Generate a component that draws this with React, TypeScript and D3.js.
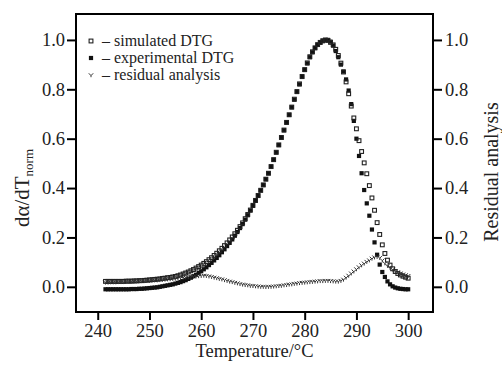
import React, { useEffect, useRef } from 'react';
import * as d3 from 'd3';

// sample temperatures (°C)
const temps = [
  241.5, 242, 242.5, 243, 243.5, 244, 244.5, 245, 245.5, 246,
  246.5, 247, 247.5, 248, 248.5, 249, 249.5, 250, 250.5, 251,
  251.5, 252, 252.5, 253, 253.5, 254, 254.5, 255, 255.5, 256,
  256.5, 257, 257.5, 258, 258.5, 259, 259.5, 260, 260.5, 261,
  261.5, 262, 262.5, 263, 263.5, 264, 264.5, 265, 265.5, 266,
  266.5, 267, 267.5, 268, 268.5, 269, 269.5, 270, 270.5, 271,
  271.5, 272, 272.5, 273, 273.5, 274, 274.5, 275, 275.5, 276,
  276.5, 277, 277.5, 278, 278.5, 279, 279.5, 280, 280.5, 281,
  281.5, 282, 282.5, 283, 283.5, 284, 284.5, 285, 285.5, 286,
  286.5, 287, 287.5, 288, 288.5, 289, 289.5, 290, 290.5, 291,
  291.5, 292, 292.5, 293, 293.5, 294, 294.5, 295, 295.5, 296,
  296.5, 297, 297.5, 298, 298.5, 299, 299.5, 300,
];

const simulated = [
  0.022, 0.022, 0.022, 0.022, 0.022, 0.022, 0.022, 0.022, 0.023, 0.023,
  0.023, 0.024, 0.024, 0.025, 0.025, 0.026, 0.027, 0.028, 0.029, 0.030,
  0.031, 0.032, 0.034, 0.035, 0.037, 0.038, 0.040, 0.042, 0.045, 0.048,
  0.052, 0.056, 0.060, 0.065, 0.070, 0.076, 0.082, 0.088, 0.095, 0.102,
  0.110, 0.118, 0.127, 0.136, 0.146, 0.156, 0.167, 0.178, 0.190, 0.202,
  0.215, 0.229, 0.244, 0.259, 0.276, 0.293, 0.311, 0.330, 0.350, 0.370,
  0.391, 0.413, 0.436, 0.460, 0.487, 0.515, 0.545, 0.575, 0.605, 0.635,
  0.666, 0.697, 0.728, 0.760, 0.791, 0.822, 0.852, 0.880, 0.907, 0.932,
  0.952, 0.968, 0.981, 0.990, 0.997, 1.000, 0.998, 0.990, 0.980, 0.962,
  0.937, 0.906, 0.870, 0.830, 0.782, 0.732, 0.684, 0.640, 0.592, 0.548,
  0.502, 0.458, 0.410, 0.360, 0.310, 0.260, 0.212, 0.170, 0.135, 0.108,
  0.088, 0.073, 0.062, 0.054, 0.048, 0.043, 0.039, 0.035,
];

const experimental = [
  -0.010, -0.010, -0.010, -0.010, -0.010, -0.010, -0.010, -0.010, -0.010, -0.010,
  -0.009, -0.009, -0.009, -0.008, -0.008, -0.007, -0.006, -0.005, -0.004, -0.003,
  -0.002, 0.000, 0.002, 0.004, 0.006, 0.008, 0.010, 0.013, 0.016, 0.019,
  0.023, 0.027, 0.032, 0.037, 0.043, 0.049, 0.056, 0.063, 0.071, 0.079,
  0.088, 0.097, 0.107, 0.117, 0.128, 0.140, 0.152, 0.165, 0.178, 0.192,
  0.207, 0.222, 0.238, 0.254, 0.272, 0.290, 0.309, 0.328, 0.348, 0.368,
  0.390, 0.412, 0.436, 0.460, 0.487, 0.515, 0.544, 0.574, 0.604, 0.634,
  0.665, 0.696, 0.727, 0.758, 0.789, 0.820, 0.850, 0.878, 0.905, 0.930,
  0.950, 0.967, 0.980, 0.989, 0.995, 0.999, 1.000, 0.993, 0.977, 0.955,
  0.930, 0.900, 0.872, 0.840, 0.795, 0.740, 0.672, 0.600, 0.530, 0.460,
  0.392, 0.338, 0.288, 0.232, 0.180, 0.130, 0.090, 0.060, 0.040, 0.022,
  0.010, 0.002, -0.003, -0.006, -0.008, -0.009, -0.010, -0.010,
];

const residual = [
  0.018, 0.018, 0.019, 0.019, 0.019, 0.020, 0.020, 0.020, 0.021, 0.021,
  0.022, 0.022, 0.023, 0.023, 0.024, 0.024, 0.025, 0.025, 0.026, 0.027,
  0.027, 0.028, 0.029, 0.030, 0.031, 0.032, 0.033, 0.034, 0.035, 0.036,
  0.038, 0.039, 0.040, 0.041, 0.042, 0.043, 0.044, 0.045, 0.046, 0.045,
  0.043, 0.041, 0.038, 0.036, 0.033, 0.031, 0.028, 0.025, 0.022, 0.020,
  0.017, 0.015, 0.012, 0.010, 0.008, 0.007, 0.005, 0.004, 0.003, 0.002,
  0.001, 0.001, 0.000, 0.001, 0.001, 0.002, 0.003, 0.004, 0.005, 0.007,
  0.008, 0.010, 0.011, 0.013, 0.014, 0.016, 0.017, 0.018, 0.019, 0.020,
  0.021, 0.022, 0.023, 0.024, 0.024, 0.025, 0.025, 0.024, 0.023, 0.022,
  0.022, 0.025, 0.030, 0.038, 0.046, 0.055, 0.063, 0.072, 0.080, 0.088,
  0.095, 0.102, 0.108, 0.115, 0.120, 0.122, 0.118, 0.108, 0.096, 0.086,
  0.078, 0.071, 0.065, 0.060, 0.055, 0.051, 0.048, 0.045,
];

const xTicks = [240, 250, 260, 270, 280, 290, 300];
const yTicks = [0.0, 0.2, 0.4, 0.6, 0.8, 1.0];
const legendLabels = ['– simulated DTG', '– experimental DTG', '– residual analysis'];

const W = 502;
const H = 365;
const FONT = '"Liberation Serif", "DejaVu Serif", serif';

const App = () => {
  const svgRef = useRef<SVGSVGElement>(null);

  useEffect(() => {
    const margin = { top: 14, right: 69, bottom: 53, left: 76 };
    const width = W - margin.left - margin.right;
    const height = H - margin.top - margin.bottom;

    d3.select(svgRef.current).selectAll('*').remove();

    const svg = d3.select(svgRef.current)
      .attr('width', W)
      .attr('height', H)
      .append('g')
      .attr('transform', `translate(${margin.left},${margin.top})`);

    const x = d3.scaleLinear().domain([235.8, 304.8]).range([0, width]);
    const y = d3.scaleLinear().domain([-0.102, 1.105]).range([height, 0]);

    const n = Math.min(temps.length, simulated.length, experimental.length, residual.length);
    const rows = d3.range(n).map(i => ({
      t: temps[i], sim: simulated[i], exp: experimental[i], res: residual[i],
    }));

    // axes
    const styleAxis = (g: any) => {
      g.select('.domain').remove();
      g.selectAll('line').attr('stroke', '#000').attr('stroke-width', 2);
      g.selectAll('text')
        .style('font-family', FONT)
        .style('font-size', '18.5px')
        .attr('fill', '#222');
    };

    svg.append('g')
      .attr('transform', `translate(0,${height})`)
      .call(d3.axisBottom(x).tickValues(xTicks).tickSize(8).tickPadding(4).tickFormat(d3.format('d')))
      .call(styleAxis);

    svg.append('g')
      .call(d3.axisLeft(y).tickValues(yTicks).tickSize(9).tickPadding(2).tickFormat(d3.format('.1f')))
      .call(styleAxis);

    svg.append('g')
      .attr('transform', `translate(${width},0)`)
      .call(d3.axisRight(y).tickValues(yTicks).tickSize(9).tickPadding(3).tickFormat(d3.format('.1f')))
      .call(styleAxis);

    // frame
    svg.append('rect')
      .attr('x', 0).attr('y', 0)
      .attr('width', width).attr('height', height)
      .attr('fill', 'none')
      .attr('stroke', '#000')
      .attr('stroke-width', 2);

    // axis titles
    svg.append('text')
      .attr('x', width / 2)
      .attr('y', height + 45)
      .attr('text-anchor', 'middle')
      .style('font-family', FONT)
      .style('font-size', '18.5px')
      .attr('fill', '#222')
      .text('Temperature/°C');

    const yl = svg.append('text')
      .attr('transform', `translate(${-margin.left + 29},${174}) rotate(-90)`)
      .attr('text-anchor', 'middle')
      .style('font-family', FONT)
      .style('font-size', '21px')
      .attr('fill', '#222');
    yl.append('tspan').text('dα/dT');
    yl.append('tspan').attr('dy', 4).style('font-size', '13px').text('norm');

    svg.append('text')
      .attr('transform', `translate(${width + 65},${158}) rotate(-90)`)
      .attr('text-anchor', 'middle')
      .style('font-family', FONT)
      .style('font-size', '20px')
      .attr('fill', '#222')
      .text('Residual analysis');

    // markers
    const resMark = 'M-2.2,-1.7 L0,0.6 L2.2,-1.7 M0,0.6 L0,2.2';

    svg.append('g')
      .selectAll('rect')
      .data(rows)
      .join('rect')
      .attr('x', d => x(d.t) - 2.1)
      .attr('y', d => y(d.exp) - 2.1)
      .attr('width', 4.2)
      .attr('height', 4.2)
      .attr('fill', '#111');

    svg.append('g')
      .selectAll('rect')
      .data(rows)
      .join('rect')
      .attr('x', d => x(d.t) - 1.9)
      .attr('y', d => y(d.sim) - 1.9)
      .attr('width', 3.8)
      .attr('height', 3.8)
      .attr('fill', 'none')
      .attr('stroke', '#222')
      .attr('stroke-width', 1.1);

    svg.append('g')
      .selectAll('path')
      .data(rows)
      .join('path')
      .attr('transform', d => `translate(${x(d.t)},${y(d.res)})`)
      .attr('d', resMark)
      .attr('fill', 'none')
      .attr('stroke', '#333')
      .attr('stroke-width', 1);

    // legend
    const legend = svg.append('g')
      .selectAll('g')
      .data(legendLabels)
      .join('g')
      .attr('transform', (d, i) => `translate(15,${27 + i * 17})`);

    legend.append('text')
      .attr('x', 11)
      .attr('y', 5)
      .style('font-family', FONT)
      .style('font-size', '16px')
      .attr('fill', '#222')
      .text(d => d);

    legend.filter((d, i) => i === 0).append('rect')
      .attr('x', -1.9).attr('y', -1.9).attr('width', 3.8).attr('height', 3.8)
      .attr('fill', 'none').attr('stroke', '#222').attr('stroke-width', 1.1);
    legend.filter((d, i) => i === 1).append('rect')
      .attr('x', -2.1).attr('y', -2.1).attr('width', 4.2).attr('height', 4.2)
      .attr('fill', '#111');
    legend.filter((d, i) => i === 2).append('path')
      .attr('d', resMark)
      .attr('fill', 'none').attr('stroke', '#333').attr('stroke-width', 1);
  }, []);

  return (
    <div style={{ position: 'absolute', left: 0, top: 0, background: '#fff' }}>
      <svg ref={svgRef}></svg>
    </div>
  );
};

export default App;
